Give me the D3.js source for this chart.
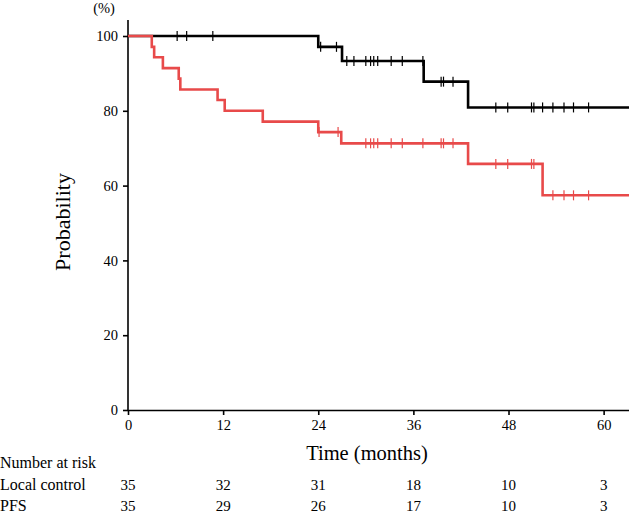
<!DOCTYPE html>
<html>
<head>
<meta charset="utf-8">
<script src="https://cdn.jsdelivr.net/npm/d3@7"></script>
<style>
  html, body { margin: 0; padding: 0; background: #fff; }
  svg { display: block; }
  text { font-family: "Liberation Serif", "Times New Roman", serif; fill: #000; }
</style>
</head>
<body>
<svg id="chart" width="629" height="514"></svg>
<script>
// ---- data ----
const xTicks = [0, 12, 24, 36, 48, 60];
const yTicks = [0, 20, 40, 60, 80, 100];

const lcEventTimes = [24.0, 27.0, 37.3, 42.9];
const lcEventSurv  = [97.1, 93.3, 87.8, 80.9];
const lcCensorTimes = [6.2, 7.4, 10.7, 24.3, 26.3, 27.6, 28.5, 30.0, 30.6, 31.0, 31.5, 33.2, 34.6, 37.2,
                       39.5, 39.8, 41.0, 46.4, 47.9, 50.9, 51.2, 52.3, 53.6, 55.0, 56.2, 58.1];

const pfsEventTimes = [3.0, 3.3, 4.4, 6.4, 6.6, 11.3, 12.2, 17.0, 24.0, 26.9, 42.9, 52.3];
const pfsEventSurv  = [97.1, 94.3, 91.4, 88.6, 85.7, 82.9, 80.0, 77.1, 74.3, 71.3, 65.8, 57.4];
const pfsCensorTimes = [24.1, 26.5, 30.0, 30.6, 31.0, 31.5, 33.2, 34.6, 37.2, 39.5, 39.8, 41.0,
                        46.4, 47.9, 50.9, 51.2, 53.6, 55.0, 56.2, 58.1];

const riskGroups = ["Local control", "PFS"];
const riskLocal = [35, 32, 31, 18, 10, 3];
const riskPFS   = [35, 29, 26, 17, 10, 3];

const xMax = 63.2;

// ---- chart ----
const svg = d3.select("#chart");
const x = d3.scaleLinear().domain([0, xMax]).range([128, 629]);
const y = d3.scaleLinear().domain([0, 100]).range([410, 36]);

// axes
const xAxis = d3.axisBottom(x).tickValues(xTicks).tickSize(5).tickPadding(5).tickSizeOuter(0);
const gx = svg.append("g").attr("transform", `translate(0,${y(0)})`).call(xAxis);
gx.select(".domain").attr("stroke-width", 1.6);
gx.selectAll(".tick line").attr("stroke-width", 1.6);
gx.selectAll(".tick text").style("font-family", "Liberation Serif").style("font-size", "14.5px");

const yAxis = d3.axisLeft(y).tickValues(yTicks).tickSize(5).tickPadding(5).tickSizeOuter(0);
const gy = svg.append("g").attr("transform", `translate(${x(0)},0)`).call(yAxis);
gy.select(".domain").attr("d", `M0,${y(0)}V20`).attr("stroke-width", 1.6);
gy.selectAll(".tick line").attr("stroke-width", 1.6);
gy.selectAll(".tick text").style("font-family", "Liberation Serif").style("font-size", "14.5px");

svg.append("text").attr("x", 104).attr("y", 13).attr("text-anchor", "middle")
  .style("font-size", "14.5px").text("(%)");

svg.append("text").attr("transform", `translate(70,222) rotate(-90)`).attr("text-anchor", "middle")
  .style("font-size", "22px").text("Probability");

svg.append("text").attr("x", 367).attr("y", 460).attr("text-anchor", "middle")
  .style("font-size", "20.5px").text("Time (months)");

// curves
function stepPoints(times, surv) {
  const pts = [[0, 100]];
  times.forEach((t, i) => pts.push([t, surv[i]]));
  pts.push([xMax, surv[surv.length - 1]]);
  return pts;
}
function survAt(times, surv, t) {
  let s = 100;
  times.forEach((et, i) => { if (et <= t) s = surv[i]; });
  return s;
}
const line = d3.line().x(d => x(d[0])).y(d => y(d[1])).curve(d3.curveStepAfter);

function drawCurve(times, surv, censors, color, w, cw) {
  const g = svg.append("g");
  g.append("path").datum(stepPoints(times, surv)).attr("d", line)
    .attr("fill", "none").attr("stroke", color).attr("stroke-width", w);
  g.selectAll("line.c").data(censors).enter().append("line")
    .attr("x1", d => x(d)).attr("x2", d => x(d))
    .attr("y1", d => y(survAt(times, surv, d)) - 5)
    .attr("y2", d => y(survAt(times, surv, d)) + 5)
    .attr("stroke", color).attr("stroke-width", cw);
}
drawCurve(lcEventTimes, lcEventSurv, lcCensorTimes, "#000", 2.6, 1.2);
drawCurve(pfsEventTimes, pfsEventSurv, pfsCensorTimes, "#e84a4a", 2.6, 1.2);

// number at risk table
svg.append("text").attr("x", 0).attr("y", 468).style("font-size", "16px").text("Number at risk");
[riskLocal, riskPFS].forEach((row, r) => {
  const yy = 490 + r * 21;
  svg.append("text").attr("x", 0).attr("y", yy).style("font-size", "16px").text(riskGroups[r]);
  svg.selectAll(null).data(row).enter().append("text")
    .attr("x", (d, i) => x(xTicks[i])).attr("y", yy).attr("text-anchor", "middle")
    .style("font-size", "15px").text(d => d);
});
</script>
</body>
</html>
